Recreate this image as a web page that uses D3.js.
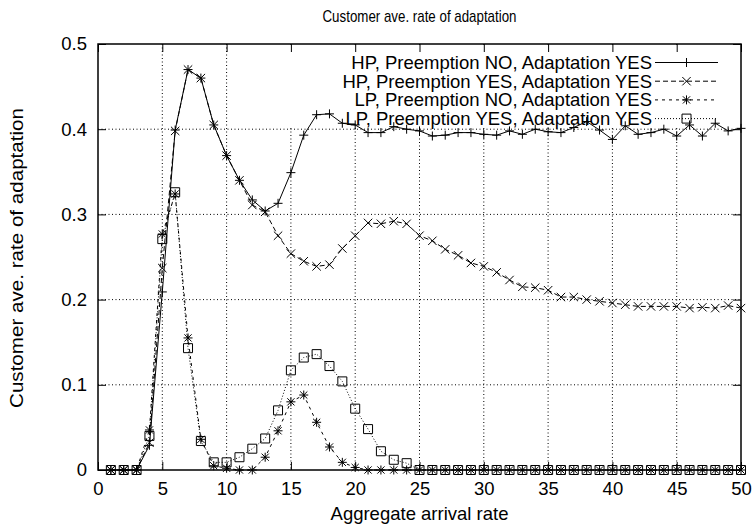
<!DOCTYPE html>
<html lang="en">

<head>
  <meta charset="UTF-8">
  <title>Customer ave. rate of adaptation</title>
  <script src="https://d3js.org/d3.v7.min.js"></script>
  <style>
    body {
      margin: 0;
      padding: 0;
      background-color: #ffffff;
      font-family: "Liberation Sans", Arial, sans-serif;
    }

    .axis-text {
      font-size: 18.5px;
      fill: #000;
    }

    .title {
      font-size: 17px;
      fill: #000;
    }

    .grid line {
      stroke: #000;
      stroke-width: 1;
      stroke-dasharray: 1, 2.5;
    }

    .legend text {
      font-size: 18.5px;
      fill: #000;
    }
  </style>
</head>

<body>
  <div id="chart"></div>
  <script>
    // arrival rates (x) and the four series
    const arrivalRate = [1, 2, 3, 4, 5, 6, 7, 8, 9, 10, 11, 12, 13, 14, 15, 16, 17, 18, 19, 20,
      21, 22, 23, 24, 25, 26, 27, 28, 29, 30, 31, 32, 33, 34, 35, 36, 37, 38, 39, 40,
      41, 42, 43, 44, 45, 46, 47, 48, 49, 50];

    const hpNoPreempt = [0, 0, 0, 0.029, 0.209, 0.399, 0.470, 0.460, 0.405, 0.369,
      0.340, 0.317, 0.304, 0.313, 0.349, 0.393, 0.417, 0.418, 0.407, 0.405,
      0.396, 0.396, 0.403, 0.400, 0.398, 0.392, 0.393, 0.396, 0.396, 0.394,
      0.393, 0.398, 0.394, 0.400, 0.397, 0.396, 0.402, 0.409, 0.399, 0.388,
      0.404, 0.394, 0.396, 0.400, 0.392, 0.405, 0.392, 0.407, 0.398, 0.401];

    const hpPreempt = [0, 0, 0, 0.032, 0.237, 0.398, 0.470, 0.460, 0.405, 0.369,
      0.340, 0.311, 0.303, 0.275, 0.254, 0.245, 0.239, 0.241, 0.260, 0.275,
      0.290, 0.289, 0.292, 0.289, 0.275, 0.269, 0.259, 0.252, 0.243, 0.239,
      0.232, 0.223, 0.215, 0.214, 0.211, 0.203, 0.203, 0.200, 0.198, 0.196,
      0.194, 0.192, 0.192, 0.192, 0.192, 0.190, 0.191, 0.190, 0.193, 0.190];

    const lpNoPreempt = [0, 0, 0, 0.047, 0.277, 0.324, 0.155, 0.036, 0.005, 0.002,
      0, 0, 0.015, 0.046, 0.080, 0.088, 0.056, 0.027, 0.009, 0.003,
      0, 0, 0, 0, 0, 0, 0, 0, 0, 0,
      0, 0, 0, 0, 0, 0, 0, 0, 0, 0,
      0, 0, 0, 0, 0, 0, 0, 0, 0, 0];

    const lpPreempt = [0, 0, 0, 0.040, 0.271, 0.326, 0.143, 0.034, 0.009, 0.009,
      0.015, 0.025, 0.037, 0.070, 0.117, 0.132, 0.136, 0.122, 0.104, 0.072,
      0.048, 0.022, 0.012, 0.008, 0, 0, 0, 0, 0, 0,
      0, 0, 0, 0, 0, 0, 0, 0, 0, 0,
      0, 0, 0, 0, 0, 0, 0, 0, 0, 0];

    const seriesNames = [
      "HP, Preemption NO, Adaptation YES",
      "HP, Preemption YES, Adaptation YES",
      "LP, Preemption NO, Adaptation YES",
      "LP, Preemption YES, Adaptation YES"
    ];

    const xTicks = [0, 5, 10, 15, 20, 25, 30, 35, 40, 45, 50];
    const yTicks = [0, 0.1, 0.2, 0.3, 0.4, 0.5];

    // marker shapes, gnuplot style
    const plus = s => `M${-s},0H${s}M0,${-s}V${s}`;
    const cross = s => `M${-s},${-s}L${s},${s}M${-s},${s}L${s},${-s}`;
    const star = s => plus(s) + cross(s * 0.8);
    const box = s => `M${-s},${-s}H${s}V${s}H${-s}Z`;

    const series = [
      { name: seriesNames[0], values: hpNoPreempt, dash: null, marker: plus(4.5) },
      { name: seriesNames[1], values: hpPreempt, dash: "5,3", marker: cross(4.2) },
      { name: seriesNames[2], values: lpNoPreempt, dash: "3,4", marker: star(4.5) },
      { name: seriesNames[3], values: lpPreempt, dash: "1,2", marker: box(4.5) }
    ];

    const margin = { top: 44, right: 12, bottom: 59, left: 98 },
      width = 753 - margin.left - margin.right,
      height = 529 - margin.top - margin.bottom;

    const svg = d3.select("#chart")
      .append("svg")
      .attr("width", width + margin.left + margin.right)
      .attr("height", height + margin.top + margin.bottom);

    const g = svg.append("g")
      .attr("transform", `translate(${margin.left}, ${margin.top})`);

    const x = d3.scaleLinear().domain([0, 50]).range([0, width]);
    const y = d3.scaleLinear().domain([0, 0.5]).range([height, 0]);

    // grid
    const grid = g.append("g").attr("class", "grid");
    grid.selectAll("line.gx")
      .data(xTicks.slice(1, -1))
      .enter().append("line")
      .attr("x1", d => x(d)).attr("x2", d => x(d))
      .attr("y1", 0).attr("y2", height);
    grid.selectAll("line.gy")
      .data(yTicks.slice(1, -1))
      .enter().append("line")
      .attr("y1", d => y(d)).attr("y2", d => y(d))
      .attr("x1", 0).attr("x2", width);

    // legend (opaque key box like gnuplot)
    const legend = g.append("g").attr("class", "legend");
    legend.append("rect")
      .attr("x", 180).attr("y", 1)
      .attr("width", width - 181).attr("height", 82)
      .attr("fill", "#fff");

    const rowY = i => 18.5 + i * 18.7;
    const sampleX0 = 557, sampleX1 = 620;

    series.forEach((s, i) => {
      legend.append("text")
        .attr("x", sampleX0 - 3)
        .attr("y", rowY(i))
        .attr("dy", "0.35em")
        .attr("text-anchor", "end")
        .text(s.name);
      legend.append("line")
        .attr("x1", sampleX0).attr("x2", sampleX1)
        .attr("y1", rowY(i)).attr("y2", rowY(i))
        .attr("stroke", "#000").attr("stroke-width", 1)
        .attr("stroke-dasharray", s.dash);
      legend.append("path")
        .attr("d", s.marker)
        .attr("transform", `translate(${(sampleX0 + sampleX1) / 2}, ${rowY(i)})`)
        .attr("fill", "none").attr("stroke", "#000").attr("stroke-width", 1);
    });

    // data lines and points
    const line = d3.line()
      .x((d, i) => x(arrivalRate[i]))
      .y(d => y(d));

    series.forEach(s => {
      g.append("path")
        .datum(s.values)
        .attr("d", line)
        .attr("fill", "none")
        .attr("stroke", "#000")
        .attr("stroke-width", 1)
        .attr("stroke-dasharray", s.dash);

      g.selectAll(null)
        .data(s.values)
        .enter().append("path")
        .attr("d", s.marker)
        .attr("transform", (d, i) => `translate(${x(arrivalRate[i])}, ${y(d)})`)
        .attr("fill", "none")
        .attr("stroke", "#000")
        .attr("stroke-width", 1);
    });

    // border
    g.append("rect")
      .attr("width", width).attr("height", height)
      .attr("fill", "none").attr("stroke", "#000").attr("stroke-width", 1.5);

    // inward ticks, mirrored on top and right
    const tickLen = 8;
    g.append("g")
      .attr("transform", `translate(0, ${height})`)
      .call(d3.axisBottom(x).tickValues(xTicks).tickSize(-tickLen).tickPadding(tickLen + 4))
      .call(a => a.select(".domain").remove())
      .call(a => a.selectAll("text").attr("class", "axis-text").attr("font-size", null).attr("font-family", null));
    g.append("g")
      .call(d3.axisTop(x).tickValues(xTicks).tickSize(-tickLen).tickFormat(""))
      .call(a => a.select(".domain").remove());
    g.append("g")
      .call(d3.axisLeft(y).tickValues(yTicks).tickSize(-tickLen).tickPadding(tickLen + 3)
        .tickFormat(d => d === 0 ? "0" : d3.format(".1f")(d)))
      .call(a => a.select(".domain").remove())
      .call(a => a.selectAll("text").attr("class", "axis-text").attr("font-size", null).attr("font-family", null));
    g.append("g")
      .attr("transform", `translate(${width}, 0)`)
      .call(d3.axisRight(y).tickValues(yTicks).tickSize(-tickLen).tickFormat(""))
      .call(a => a.select(".domain").remove());
    g.selectAll(".tick line").attr("stroke", "#000").attr("stroke-width", 1);

    // titles
    svg.append("text")
      .attr("class", "title")
      .attr("x", margin.left + width / 2)
      .attr("y", 22)
      .attr("text-anchor", "middle")
      .attr("textLength", 194)
      .attr("lengthAdjust", "spacingAndGlyphs")
      .text("Customer ave. rate of adaptation");

    svg.append("text")
      .attr("class", "axis-text")
      .attr("x", margin.left + width / 2)
      .attr("y", 520)
      .attr("text-anchor", "middle")
      .text("Aggregate arrival rate");

    svg.append("text")
      .attr("class", "axis-text")
      .attr("transform", "rotate(-90)")
      .attr("x", -(margin.top + height / 2 + 1))
      .attr("y", 23)
      .attr("text-anchor", "middle")
      .attr("textLength", 300)
      .attr("lengthAdjust", "spacingAndGlyphs")
      .text("Customer ave. rate of adaptation");
  </script>
</body>

</html>
